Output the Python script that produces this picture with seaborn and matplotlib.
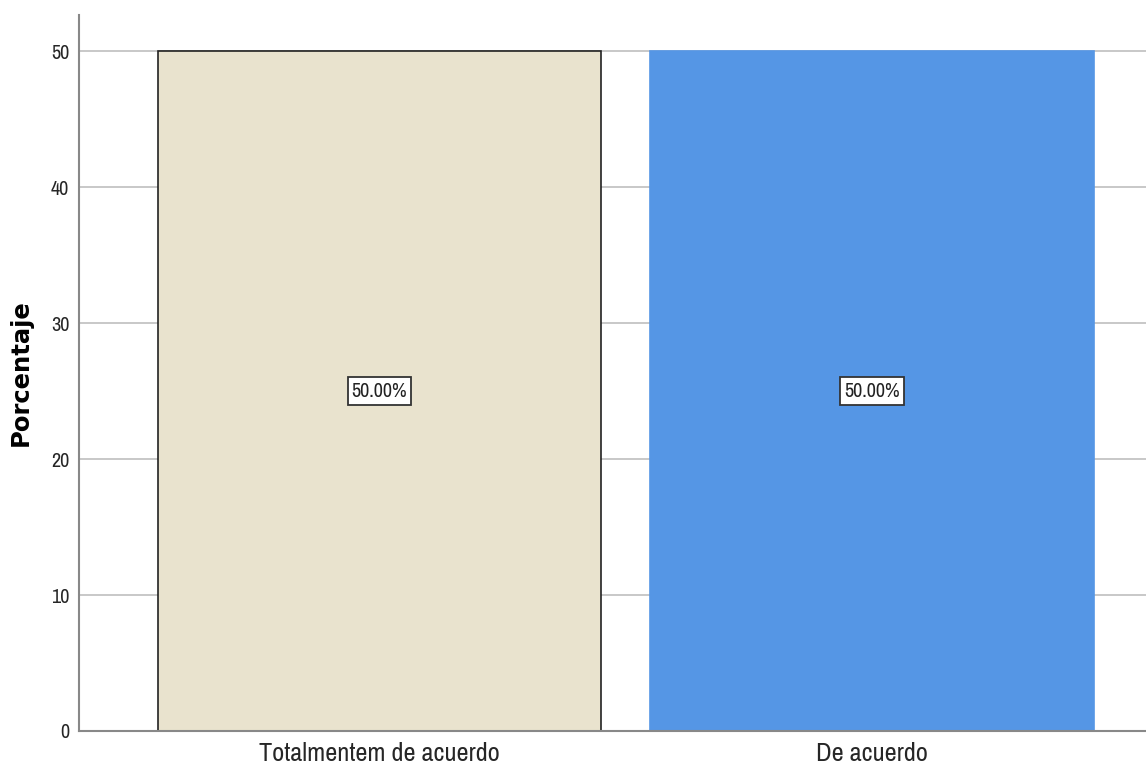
import matplotlib
matplotlib.use("Agg")
import matplotlib.pyplot as plt
import seaborn as sns
import pandas as pd

categories = ["Totalmentem de acuerdo", "De acuerdo"]
values = [50.0, 50.0]
labels = ["50.00%", "50.00%"]
colors = ["#E9E3CE", "#5596E5"]
yticks = [0, 10, 20, 30, 40, 50]

sns.set_style("white")
plt.rcParams['font.family'] = ["Archivo Narrow", "Liberation Sans Narrow", "DejaVu Sans"]

df = pd.DataFrame({"cat": categories, "val": values})
fig = plt.figure(figsize=(11.46, 7.77), dpi=100)
ax = fig.add_axes([79/1146, 46/777, 1 - 79/1146, (731-15)/777])
ax.set_axisbelow(True)
ax.yaxis.grid(True, color="#C4C4C4", linewidth=1.3)
sns.barplot(data=df, x="cat", y="val", hue="cat", palette=colors, width=0.9,
            legend=False, ax=ax, saturation=1)
edges = ["#222222", "#5596E5"]
for p, e in zip(ax.patches, edges):
    p.set_edgecolor(e)
    p.set_linewidth(1.2)
for i, (v, lab) in enumerate(zip(values, labels)):
    ax.text(i, v / 2, lab, ha="center", va="center", fontsize=14.5, color="#222222",
            bbox=dict(boxstyle="square,pad=0.2", fc="white", ec="#333333", lw=1.3))
ax.set_xlim(-0.61, 1.556)
ax.set_ylim(0, 52.65)
ax.set_yticks(yticks)
ax.set_yticklabels([str(t) for t in yticks], fontsize=14.5)
ax.tick_params(axis="y", length=0, pad=7)
ax.tick_params(axis="x", length=0, labelsize=19, pad=8)
ax.set_xlabel("")
ax.set_ylabel("Porcentaje", fontsize=17.5, fontweight="bold", color="black",
              family=["DejaVu Sans"])
ax.yaxis.set_label_coords(-46/1067, 0.5)
for s in ["top", "right"]:
    ax.spines[s].set_visible(False)
for s in ["left", "bottom"]:
    ax.spines[s].set_color("#888888")
    ax.spines[s].set_linewidth(1.5)
fig.savefig("out.png", dpi=100)
